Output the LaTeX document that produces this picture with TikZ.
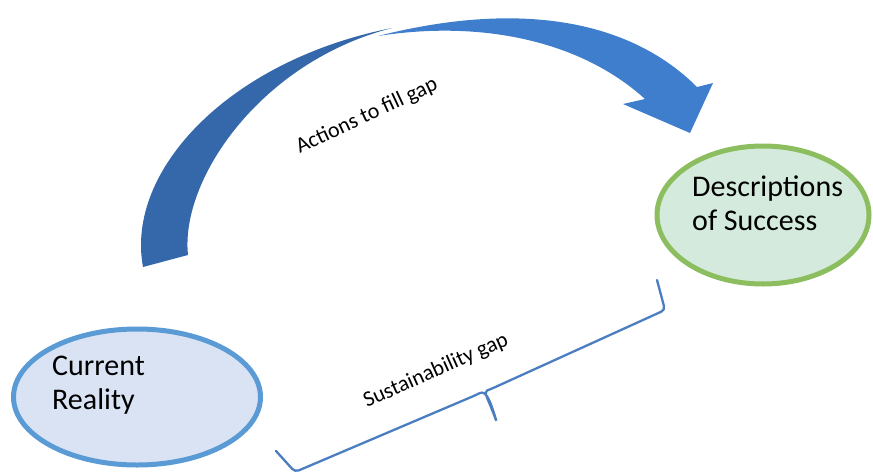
\documentclass[tikz,border=0pt]{standalone}
\usepackage{fontspec}
\setmainfont{Carlito}
\usetikzlibrary{positioning, shapes}

\definecolor{realityedge}{RGB}{91,155,213}
\definecolor{realityfill}{RGB}{218,227,243}
\definecolor{successedge}{RGB}{140,190,95}
\definecolor{successfill}{RGB}{212,234,221}
\definecolor{arrowdark}{RGB}{52,104,170}
\definecolor{arrowlight}{RGB}{62,126,204}
\definecolor{bracecol}{RGB}{74,126,193}

\begin{document}
\begin{tikzpicture}[
    x=1pt, y=-1pt,
    state/.style={draw, ellipse, line width=5pt, inner sep=0pt},
    reality/.style={state, draw=realityedge, fill=realityfill, minimum width=247pt, minimum height=136pt},
    success/.style={state, draw=successedge, fill=successfill, minimum width=212pt, minimum height=138pt},
    bigtext/.style={align=left, inner sep=0pt, font=\fontsize{30}{34}\selectfont},
    gaplabel/.style={inner sep=0pt, rotate=24, font=\fontsize{22}{26}\selectfont},
    gapbrace/.style={draw=bracecol, line width=2.3pt, line cap=round, rounded corners=4pt}
]
\useasboundingbox (0,0) rectangle (873,474);

% Current reality
\node[reality] (current) at (137,397) {};
\node[bigtext, anchor=north west] (currenttext) at (52,356) {Current\\Reality};

% Descriptions of success
\node[success] (success) at (763,215) {};
\node[bigtext, anchor=north west] (successtext) at (692,176) {Descriptions\\of Success};

% Curved arrow, back part
\fill[arrowdark] (143,267) .. controls (125,170) and (230,60) .. (392,28)
    .. controls (260,62) and (180,180) .. (188,255) -- cycle;
% Curved arrow, front part with head
\fill[arrowlight] (378,36) .. controls (520,0) and (630,20) .. (697,87)
    -- (713,83) -- (690,133) -- (623,104) -- (645,99)
    .. controls (580,40) and (480,20) .. (378,36) -- cycle;
\node[gaplabel, rotate=1] (actions) at (367,116) {Actions to fill gap};

% Gap brace
\draw[gapbrace] (276,451) -- (295,472) -- (476,395)
    .. controls (486,390) and (490,400) .. (497,423)
    .. controls (488,398) and (483,392) .. (491,389) -- (665,310) -- (657,280);
\node[gaplabel] (gap) at (436,371) {Sustainability gap};

\end{tikzpicture}
\end{document}
